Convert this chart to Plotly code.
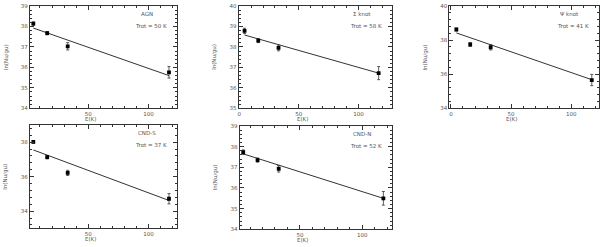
import plotly.graph_objects as go

# ---- data ----
energy = [4.5, 16.0, 33.0, 117.0]

names = ["AGN", "Σ knot", "Ψ knot", "CND-S", "CND-N"]
trot = [50, 58, 41, 37, 52]

agn_y = [38.14, 37.67, 37.03, 35.76]
agn_err = [0.08, 0.08, 0.18, 0.28]
sigma_y = [38.78, 38.31, 37.95, 36.72]
sigma_err = [0.13, 0.10, 0.14, 0.32]
psi_y = [38.62, 37.74, 37.58, 35.66]
psi_err = [0.08, 0.10, 0.16, 0.33]
cnds_y = [38.02, 37.13, 36.22, 34.72]
cnds_err = [0.08, 0.10, 0.15, 0.30]
cndn_y = [37.73, 37.35, 36.93, 35.50]
cndn_err = [0.11, 0.10, 0.16, 0.33]

fit_start = [37.92, 38.58, 38.42, 37.55, 37.65]
fit_end = [35.60, 36.72, 35.68, 34.62, 35.50]

y_ranges = [[34, 39], [35, 40], [34, 40], [33, 39], [34, 39]]
y_dtick = [1, 1, 2, 2, 1]
x_ranges = [[1.7, 123.4], [-0.5, 128.5], [-1.4, 123.0], [1.7, 123.4], [1.6, 124.2]]

series = [agn_y, sigma_y, psi_y, cnds_y, cndn_y]
errors = [agn_err, sigma_err, psi_err, cnds_err, cndn_err]

# ---- layout geometry (pixels) ----
W, H = 600, 247
px_x = [(29, 176), (238, 392), (449, 599), (29, 176), (239, 392)]
px_y = [(3, 108), (3, 108), (3, 108), (125, 231), (126, 232)]

def fx(p):
    return p / W

def fy(p):
    return 1 - p / H

fig = go.Figure()
ink = "#333333"
txt = "#555555"
fsz = 5.5
tick_font = dict(family="DejaVu Sans", size=fsz, color=txt)

for i in range(5):
    xa = "x" if i == 0 else f"x{i+1}"
    ya = "y" if i == 0 else f"y{i+1}"
    fig.add_trace(go.Scatter(
        x=[energy[0], energy[-1]], y=[fit_start[i], fit_end[i]],
        mode="lines", line=dict(color=ink, width=1), xaxis=xa, yaxis=ya,
        showlegend=False, hoverinfo="skip"))
    fig.add_trace(go.Scatter(
        x=energy, y=series[i], mode="markers",
        marker=dict(symbol="square", size=3.8, color="black"),
        error_y=dict(type="data", array=errors[i], color=ink, thickness=0.8, width=1.5),
        xaxis=xa, yaxis=ya, showlegend=False))

    axkey = "xaxis" if i == 0 else f"xaxis{i+1}"
    aykey = "yaxis" if i == 0 else f"yaxis{i+1}"
    x0, x1 = px_x[i]
    y0, y1 = px_y[i]
    common = dict(showline=True, linecolor=ink, linewidth=1, mirror="allticks",
                  ticks="inside", ticklen=4, tickcolor=ink, tickwidth=0.8,
                  showgrid=False, zeroline=False, tickfont=tick_font)
    fig.layout[axkey] = dict(
        domain=[fx(x0), fx(x1)], anchor=ya, range=x_ranges[i],
        tick0=0, dtick=50, minor=dict(ticks="inside", ticklen=2, dtick=10, tickcolor=ink),
        **common)
    fig.layout[aykey] = dict(
        domain=[fy(y1), fy(y0)], anchor=xa, range=y_ranges[i],
        tick0=0, dtick=y_dtick[i],
        minor=dict(ticks="inside", ticklen=2, dtick=y_dtick[i] / 5, tickcolor=ink),
        **common)

    # axis titles
    fig.add_annotation(x=fx((x0 + x1) / 2 - 13), y=fy(y1 + 11), xref="paper", yref="paper",
                       text="E(K)", showarrow=False, xanchor="center", yanchor="middle",
                       font=dict(family="DejaVu Sans", size=fsz, color=txt))
    fig.add_annotation(x=fx(x0 - 24), y=fy((y0 + y1) / 2), xref="paper", yref="paper",
                       text="ln(Nu/gu)", textangle=-90, showarrow=False,
                       xanchor="center", yanchor="middle",
                       font=dict(family="DejaVu Sans", size=fsz, color=txt))
    # labels
    fig.add_annotation(x=fx(x1 - 30), y=fy(y0 + 8), xref="paper", yref="paper",
                       text=names[i], showarrow=False, xanchor="center", yanchor="middle",
                       font=dict(family="DejaVu Sans", size=fsz, color=txt))
    fig.add_annotation(x=fx(x1 - 26), y=fy(y0 + 21), xref="paper", yref="paper",
                       text=f"Trot = {trot[i]} K", showarrow=False, xanchor="center",
                       yanchor="middle",
                       font=dict(family="DejaVu Sans", size=fsz, color=txt))

fig.update_layout(width=W, height=H, margin=dict(l=0, r=0, t=0, b=0),
                  paper_bgcolor="white", plot_bgcolor="white")
fig.write_html("out.html", config={"displayModeBar": False},
               post_script="document.body.style.margin='0';")
